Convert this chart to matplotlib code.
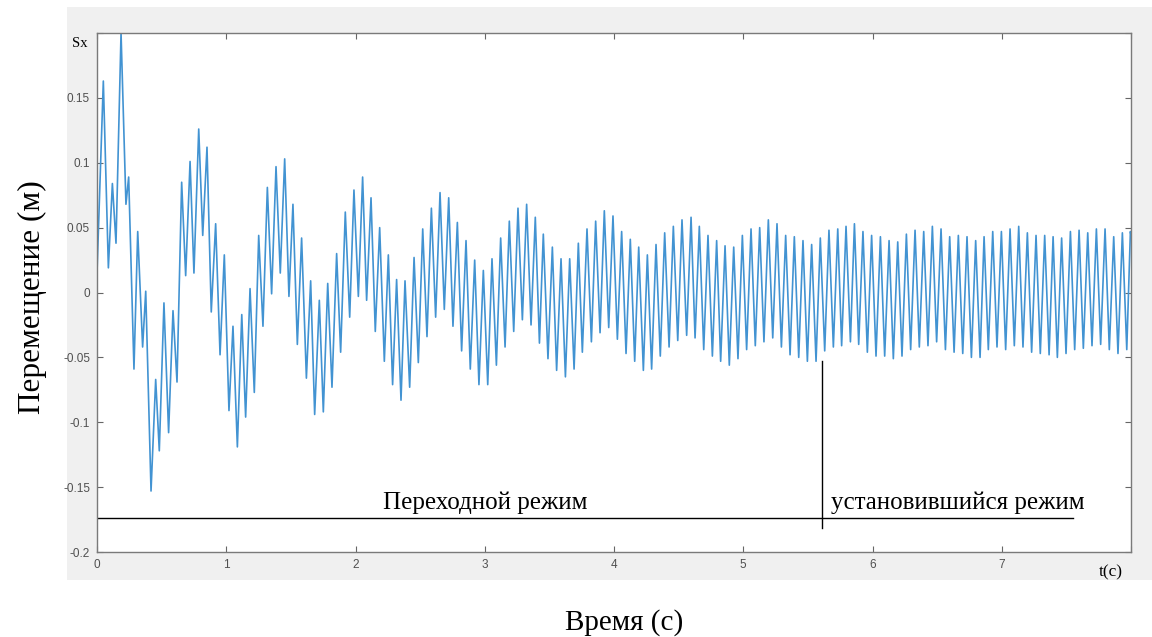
import matplotlib
matplotlib.use("Agg")
import matplotlib.pyplot as plt
from matplotlib.patches import Rectangle

# Экстремумы кривой Sx(t) (время, с / перемещение, м)
t_ext = [
    0.0, 0.049, 0.088, 0.119, 0.147, 0.186, 0.224, 0.245, 0.286, 0.315, 0.353, 0.377,
    0.418, 0.454, 0.482, 0.518, 0.554, 0.588, 0.619, 0.655, 0.686, 0.720, 0.750, 0.787,
    0.818, 0.851, 0.884, 0.918, 0.952, 0.985,
    1.021, 1.052, 1.086, 1.120, 1.150, 1.184, 1.217, 1.251, 1.284, 1.318, 1.351, 1.385,
    1.418, 1.452, 1.485, 1.516, 1.550, 1.583, 1.620, 1.653, 1.684, 1.720, 1.751, 1.785,
    1.818, 1.854, 1.885, 1.921, 1.955, 1.988,
    2.022, 2.055, 2.086, 2.120, 2.153, 2.187, 2.223, 2.254, 2.287, 2.318, 2.352, 2.383,
    2.419, 2.453, 2.486, 2.520, 2.553, 2.587, 2.620, 2.654, 2.687, 2.721, 2.754, 2.788,
    2.821, 2.855, 2.888, 2.922, 2.955, 2.989,
    3.023, 3.056, 3.090, 3.123, 3.157, 3.190, 3.224, 3.257, 3.291, 3.324, 3.358, 3.391,
    3.423, 3.453, 3.489, 3.523, 3.556, 3.590, 3.624, 3.657, 3.691, 3.724, 3.755, 3.791,
    3.825, 3.858, 3.892, 3.925, 3.959, 3.992,
    4.026, 4.059, 4.093, 4.126, 4.160, 4.191, 4.227, 4.258, 4.291, 4.325, 4.358, 4.392,
    4.426, 4.459, 4.493, 4.526, 4.562, 4.596, 4.627, 4.660, 4.694, 4.727, 4.761, 4.794,
    4.825, 4.859, 4.892, 4.926, 4.959, 4.993,
    5.026, 5.060, 5.093, 5.127, 5.160, 5.194, 5.228, 5.261, 5.295, 5.328, 5.362, 5.395,
    5.429, 5.462, 5.496, 5.529, 5.563, 5.596, 5.630, 5.663, 5.697, 5.731, 5.761, 5.795,
    5.829, 5.860, 5.893, 5.926, 5.960, 5.993,
    6.027, 6.061, 6.094, 6.128, 6.161, 6.195, 6.228, 6.262, 6.295, 6.329, 6.362, 6.396,
    6.429, 6.463, 6.496, 6.530, 6.564, 6.597, 6.631, 6.664, 6.698, 6.731, 6.765, 6.798,
    6.832, 6.863, 6.896, 6.930, 6.963, 6.997,
    7.030, 7.064, 7.097, 7.131, 7.164, 7.198, 7.231, 7.265, 7.298, 7.332, 7.366, 7.397,
    7.430, 7.463, 7.497, 7.531, 7.564, 7.598, 7.631, 7.665, 7.698, 7.732, 7.765, 7.799,
    7.832, 7.866, 7.899, 7.933, 7.967, 7.995, 8.0,
]
sx_ext = [
    0.015, 0.163, 0.019, 0.084, 0.038, 0.200, 0.068, 0.089, -0.059, 0.047, -0.042, 0.001,
    -0.153, -0.067, -0.122, -0.008, -0.108, -0.014, -0.069, 0.085, 0.013, 0.101, 0.015, 0.126,
    0.044, 0.112, -0.015, 0.053, -0.048, 0.029,
    -0.091, -0.026, -0.119, -0.017, -0.096, 0.003, -0.077, 0.044, -0.026, 0.081, -0.001, 0.097,
    0.015, 0.103, -0.003, 0.068, -0.040, 0.042, -0.066, 0.009, -0.094, -0.006, -0.092, 0.007,
    -0.073, 0.030, -0.046, 0.062, -0.019, 0.079,
    -0.003, 0.089, -0.006, 0.073, -0.030, 0.050, -0.053, 0.029, -0.071, 0.010, -0.083, 0.009,
    -0.073, 0.027, -0.054, 0.049, -0.034, 0.065, -0.019, 0.077, -0.013, 0.073, -0.026, 0.054,
    -0.045, 0.040, -0.059, 0.025, -0.071, 0.017,
    -0.071, 0.026, -0.056, 0.042, -0.042, 0.055, -0.030, 0.065, -0.021, 0.068, -0.025, 0.058,
    -0.039, 0.045, -0.051, 0.035, -0.060, 0.026, -0.065, 0.026, -0.059, 0.038, -0.046, 0.049,
    -0.038, 0.055, -0.031, 0.063, -0.027, 0.059,
    -0.036, 0.047, -0.047, 0.041, -0.053, 0.035, -0.060, 0.029, -0.059, 0.037, -0.049, 0.046,
    -0.042, 0.051, -0.037, 0.056, -0.033, 0.058, -0.035, 0.051, -0.044, 0.044, -0.049, 0.040,
    -0.053, 0.036, -0.056, 0.035, -0.051, 0.044,
    -0.044, 0.049, -0.041, 0.050, -0.038, 0.056, -0.035, 0.053, -0.042, 0.044, -0.048, 0.043,
    -0.050, 0.040, -0.053, 0.037, -0.053, 0.042, -0.045, 0.048, -0.042, 0.049, -0.041, 0.051,
    -0.038, 0.053, -0.040, 0.047, -0.046, 0.044,
    -0.049, 0.043, -0.049, 0.040, -0.051, 0.039, -0.049, 0.045, -0.044, 0.048, -0.042, 0.047,
    -0.041, 0.051, -0.038, 0.049, -0.044, 0.043, -0.046, 0.044, -0.047, 0.043, -0.050, 0.040,
    -0.050, 0.043, -0.044, 0.047, -0.042, 0.047,
    -0.044, 0.049, -0.041, 0.051, -0.042, 0.046, -0.046, 0.044, -0.047, 0.044, -0.048, 0.043,
    -0.050, 0.042, -0.047, 0.047, -0.044, 0.048, -0.043, 0.046, -0.041, 0.049, -0.040, 0.049,
    -0.044, 0.043, -0.047, 0.046, -0.044, 0.047, 0.044,
]

x_ticks = [0, 1, 2, 3, 4, 5, 6, 7, 8]
x_labels = ["0", "1", "2", "3", "4", "5", "6", "7", ""]
y_ticks = [-0.2, -0.15, -0.1, -0.05, 0, 0.05, 0.1, 0.15, 0.2]
y_labels = ["-0.2", "-0.15", "-0.1", "-0.05", "0", "0.05", "0.1", "0.15", ""]

# граница режимов и уровень подписей
t_switch = 5.612
t_line_end = 7.55
y_line = -0.174
y_text = -0.167

serif = ["Liberation Serif", "DejaVu Serif"]

fig = plt.figure(figsize=(11.52, 6.37), dpi=100)
fig.patch.set_facecolor("white")
# серая подложка окна MATLAB
fig.add_artist(Rectangle((0.0582, 0.0895), 0.9418, 0.8995, transform=fig.transFigure,
                         facecolor="#f0f0f0", edgecolor="none", zorder=-10))

ax = fig.add_axes([0.0842, 0.1334, 0.8976, 0.8148])
ax.set_zorder(1)
ax.set_facecolor("white")
ax.plot(t_ext, sx_ext, color="#4293d2", lw=1.2, solid_joinstyle="round")

ax.set_xlim(0, 8)
ax.set_ylim(-0.2, 0.2)
ax.set_xticks(x_ticks)
ax.set_xticklabels(x_labels)
ax.set_yticks(y_ticks)
ax.set_yticklabels(y_labels)
ax.tick_params(direction="in", length=4, width=0.8, top=True, right=True,
               labelsize=8.5, labelcolor="#505050", color="#666666", pad=5)
for lab in ax.get_xticklabels() + ax.get_yticklabels():
    lab.set_family("Liberation Sans")
for sp in ax.spines.values():
    sp.set_color("#7a7a7a")
    sp.set_linewidth(1.0)

# линии и подписи режимов
ax.plot([0, t_line_end], [y_line, y_line], color="black", lw=1.0)
ax.plot([t_switch, t_switch], [-0.0528, -0.1815], color="black", lw=1.0)
ax.text(2.213, y_text, "Переходной режим", family=serif, fontsize=18, ha="left", va="baseline")
ax.text(5.675, y_text, "установившийся режим", family=serif, fontsize=18, ha="left", va="baseline")

fig.text(0.0764, 1 - 47 / 637, "Sx", family=serif, fontsize=10.5, ha="right", va="baseline")
fig.text(0.954, 1 - 576 / 637, "t(c)", family=serif, fontsize=12.5, ha="left", va="baseline")
fig.text(0.028, 1 - 297 / 637, "Перемещение (м)", family=serif, fontsize=22.5,
         rotation=90, ha="center", va="center")
fig.text(0.542, 1 - 630 / 637, "Время (с)", family=serif, fontsize=21, ha="center", va="baseline")

fig.savefig("out.png", dpi=100)
